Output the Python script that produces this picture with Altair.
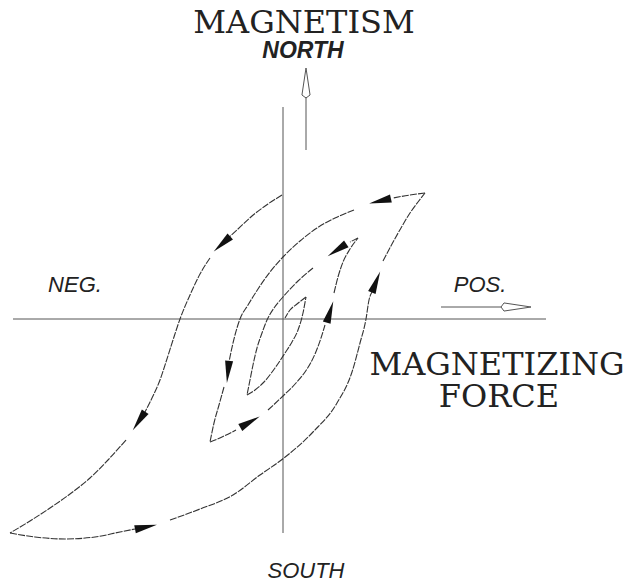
import math
import altair as alt
import pandas as pd

# Demagnetization by a reversing, decaying field: the B-H path spirals
# inward from the remanence point to the origin.
# Coordinates: H = magnetizing force (right +), B = magnetism (up +).

# Each branch is a list of pieces; pieces are separated by small gaps
# where an arrowhead sits.
branch_1 = [  # remanence -> negative saturation
    [(-2, 124), (-16, 115), (-32, 103), (-46, 90), (-58, 79)],
    [(-74, 61), (-84, 45), (-94, 24), (-104, 0), (-111, -21), (-118, -43),
     (-124, -61), (-132, -79), (-139, -93)],
    [(-158, -121), (-176, -141), (-194, -159), (-214, -175), (-234, -189),
     (-254, -202), (-274, -214)],
]
branch_2 = [  # negative saturation -> positive tip
    [(-274, -214), (-249, -218), (-219, -220), (-189, -218), (-164, -213),
     (-149, -210)],
    [(-114, -201), (-84, -190), (-51, -176), (-24, -156), (0, -139),
     (29, -113), (53, -84), (68, -53), (76, -24), (82, 0), (85, 19), (88, 27)],
    [(99, 58), (108, 75), (117, 91), (126, 106), (134, 117), (141, 126)],
]
branch_3 = [
    [(141, 126), (126, 124), (109, 121)],
    [(70, 109), (51, 101), (33, 91), (16, 78), (-1, 62), (-14, 47), (-26, 30),
     (-36, 14), (-44, 0), (-49, -16), (-53, -33), (-55, -43)],
    [(-60, -68), (-65, -86), (-70, -104), (-74, -123)],
]
branch_4 = [
    [(-74, -123), (-62, -118), (-48, -111)],
    [(-16, -91), (-1, -77), (12, -64), (23, -50), (31, -35), (37, -19), (41, -6)],
    [(50, 26), (54, 42), (59, 57), (66, 70), (74, 81)],
]
branch_5 = [
    [(74, 81), (66, 77)],
    [(29, 51), (14, 38), (-1, 22), (-10, 11), (-17, -1), (-22, -14),
     (-27, -29), (-31, -46), (-34, -61), (-37, -76)],
]
branch_6 = [
    [(-37, -76), (-29, -71), (-20, -63), (-9, -49), (1, -34), (8, -23),
     (14, -11), (19, 6), (22, 22)],
]
branch_7 = [
    [(22, 22), (13, 15), (6, 9), (1, 1)],
]

# Direction arrows along the path: position and direction of travel
arrow_h = [-62, -145, -138, 92, 96, -56, -34, 46, 53]
arrow_b = [75, -102, -208, 37, 118, -53, -103, 7, 69]
arrow_dh = [-12, -8, 10, 4, -13, -1, 14, 4, -3]
arrow_db = [-11, -12, 2, 10, -3, -10, 8, 13, -2]

# Axis lines
axis_h = [-271, 262]
axis_b = [212, -214]

# "North" and "positive" pointers (shaft start, shaft end, head centre)
north_shaft = [(22, 169), (22, 222)]
north_head = (22, 236)
pos_shaft = [(157, 12), (217, 12)]
pos_head = (232, 12)

labels = ["MAGNETISM", "NORTH", "NEG.", "POS.", "MAGNETIZING", "FORCE", "SOUTH"]
label_h = [20, 19, -209, 196, 213, 215, 22]
label_b = [286, 261, 27, 27, -56, -88, -259]

W, H = 626, 585
xs = alt.Scale(domain=[-284, W - 284], nice=False, zero=False)
ys = alt.Scale(domain=[319 - H, 319], nice=False, zero=False)


def angle_of(dh, db):
    return (math.degrees(math.atan2(dh, db)) + 360) % 360


rows = []
seg = 0
for branch in [branch_1, branch_2, branch_3, branch_4, branch_5, branch_6, branch_7]:
    for piece in branch:
        for i, (h, b) in enumerate(piece):
            rows.append({"seg": seg, "i": i, "h": h, "b": b})
        seg += 1
path_df = pd.DataFrame(rows)

arrow_df = pd.DataFrame({
    "h": arrow_h, "b": arrow_b,
    "ang": [angle_of(dh, db) for dh, db in zip(arrow_dh, arrow_db)],
})

axes_df = pd.DataFrame([
    {"h": axis_h[0], "h2": axis_h[1], "b": 0, "b2": 0},
    {"h": -1, "h2": -1, "b": axis_b[0], "b2": axis_b[1]},
])
pointer_df = pd.DataFrame([
    {"h": north_shaft[0][0], "h2": north_shaft[1][0],
     "b": north_shaft[0][1], "b2": north_shaft[1][1]},
    {"h": pos_shaft[0][0], "h2": pos_shaft[1][0],
     "b": pos_shaft[0][1], "b2": pos_shaft[1][1]},
])
head_df = pd.DataFrame([
    {"h": north_head[0], "b": north_head[1], "ang": 0},
    {"h": pos_head[0], "b": pos_head[1], "ang": 90},
])
label_df = pd.DataFrame({"text": labels, "h": label_h, "b": label_b})

X = lambda f="h": alt.X(f"{f}:Q", scale=xs, axis=None)
Y = lambda f="b": alt.Y(f"{f}:Q", scale=ys, axis=None)

ink = "#333333"

axes = alt.Chart(axes_df).mark_rule(color="#555555", strokeWidth=1).encode(
    x=X(), x2="h2:Q", y=Y(), y2="b2:Q")

curve = alt.Chart(path_df).mark_line(
    color=ink, strokeWidth=1.1, strokeDash=[7, 1.2], interpolate="monotone"
).encode(x=X(), y=Y(), detail="seg:N", order="i:Q")

arrows = alt.Chart(arrow_df).mark_point(
    shape="M0,-1L0.36,1L-0.36,1Z", filled=True, opacity=1, color="#111111",
    size=500, strokeWidth=0
).encode(x=X(), y=Y(), angle=alt.Angle("ang:Q", scale=None))

shafts = alt.Chart(pointer_df).mark_rule(color="#555555", strokeWidth=1).encode(
    x=X(), x2="h2:Q", y=Y(), y2="b2:Q")

heads = alt.Chart(head_df).mark_point(
    shape="M0,-1L0.27,0.8L0,1L-0.27,0.8Z", filled=False, opacity=1,
    color="#555555", size=900, strokeWidth=1
).encode(x=X(), y=Y(), angle=alt.Angle("ang:Q", scale=None))


def text_layer(names, **kw):
    d = label_df[label_df["text"].isin(names)]
    return alt.Chart(d).mark_text(baseline="alphabetic", align="center",
                                  color="#222222", **kw).encode(
        x=X(), y=Y(), text="text:N")


serif = text_layer(["MAGNETISM", "MAGNETIZING", "FORCE"],
                   font="DejaVu Serif", fontSize=32)
north = text_layer(["NORTH"], font="Liberation Sans", fontSize=23,
                   fontStyle="italic", fontWeight="bold")
sans = text_layer(["NEG.", "POS.", "SOUTH"], font="Liberation Sans",
                  fontSize=22, fontStyle="italic")

chart = alt.layer(axes, curve, arrows, shafts, heads, serif, north, sans).properties(
    width=W, height=H, padding=0, autosize="none", background="white"
).configure_view(stroke=None)

chart.save("out.html", embed_options={"renderer": "svg", "actions": False})
